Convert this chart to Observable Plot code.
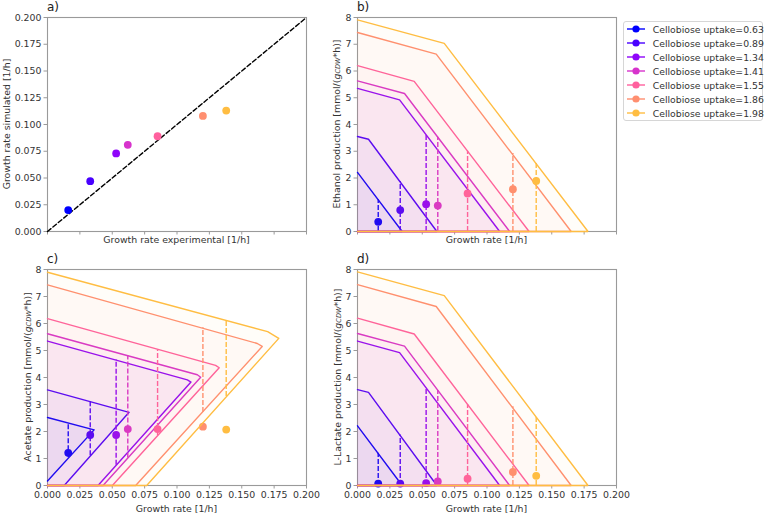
<!DOCTYPE html>
<html>
<head>
<meta charset="utf-8">
<script src="https://cdn.jsdelivr.net/npm/d3@7"></script>
<script src="https://cdn.jsdelivr.net/npm/@observablehq/plot@0.6"></script>
<style>
  body { margin: 0; background: #fff; }
  #chart { position: relative; width: 768px; height: 514px; background: #fff; font-family: "DejaVu Sans", sans-serif; overflow: hidden; }
  .panel { position: absolute; }
  #legend { position: absolute; left: 623px; top: 21px; width: 140px; height: 100px; box-sizing: border-box;
            border: 1px solid #d6d6d6; border-radius: 3px; background: #fff; padding-left: 3px; }
  .lrow { height: 14px; display: flex; align-items: center; font-size: 9.3px; color: #333; white-space: nowrap; }
  .lrow svg { flex: none; margin-right: 7.7px; }
</style>
</head>
<body>
<div id="chart"></div>
<script>
// ---------------- data ----------------
const uptakes    = [0.63, 0.89, 1.34, 1.41, 1.55, 1.86, 1.98];
const growthExp  = [0.016, 0.033, 0.053, 0.062, 0.085, 0.120, 0.138];
const growthSim  = [0.020, 0.047, 0.073, 0.081, 0.089, 0.108, 0.113];
const ethanolExp = [0.36, 0.80, 1.02, 0.97, 1.42, 1.58, 1.89];
const lactateExp = [0.07, 0.07, 0.09, 0.15, 0.25, 0.50, 0.36];
const acetateExp = [1.21, 1.87, 1.87, 2.09, 2.09, 2.18, 2.07];

// ethanol / L-lactate production envelopes (same shape)
const envY0     = [2.21, 3.55, 5.35, 5.63, 6.20, 7.44, 7.91];
const envKinkMu = [0.000, 0.0085, 0.0325, 0.0363, 0.0438, 0.0608, 0.0670];
const envKinkY  = [2.21, 3.45, 4.92, 5.16, 5.61, 6.63, 7.03];
const envMaxMu  = [0.0345, 0.0613, 0.1098, 0.1175, 0.1325, 0.1650, 0.1780];
const envAtExp  = [1.19, 1.87, 3.62, 3.52, 3.00, 2.92, 2.57];

// acetate production envelopes
const aceY0      = [2.52, 3.54, 5.35, 5.62, 6.18, 7.43, 7.90];
const aceUpEndMu = [0.0360, 0.0630, 0.1080, 0.1157, 0.1298, 0.1620, 0.1700];
const aceUpEndY  = [2.06, 2.71, 3.91, 4.10, 4.45, 5.26, 5.70];
const aceTipMu   = [0.0360, 0.0630, 0.1108, 0.1183, 0.1326, 0.1658, 0.1786];
const aceTipY    = [2.06, 2.71, 3.83, 4.01, 4.36, 5.15, 5.45];
const aceLowMu   = [0.000, 0.0129, 0.0390, 0.0429, 0.0501, 0.0681, 0.0766];
const aceLowY    = [0.17, 0, 0, 0, 0, 0, 0];
const aceDashLow = [1.03, 1.10, 0.75, 1.02, 1.85, 2.70, 3.30];
const aceDashHigh= [2.30, 3.12, 4.66, 4.80, 5.02, 5.84, 6.10];

// axes
const rateDomain = [0, 0.2];
const prodDomain = [0, 8];
const rateTicks  = [0, 0.025, 0.05, 0.075, 0.1, 0.125, 0.15, 0.175, 0.2];
const prodTicks  = [0, 1, 2, 3, 4, 5, 6, 7, 8];

// styles
const colors = ["#0000ff", "#4800ff", "#8f05fa", "#d733cc", "#ff619e", "#ff8f70", "#ffbd42"];
const labels = uptakes.map(u => `Cellobiose uptake=${u.toFixed(2)}`);
const FONT = "DejaVu Sans";
const FS = 9.4;
const SPINE = "#9a9a9a";
const TXT = "#333";

// ---------------- helpers ----------------
const chart = document.getElementById("chart");
const fmt3 = d3.format(".3f");

function envBD(i) {
  return [{x: 0, y: 0}, {x: envMaxMu[i], y: 0}, {x: envKinkMu[i], y: envKinkY[i]}, {x: 0, y: envY0[i]}];
}
function envC(i) {
  const pts = [];
  if (aceLowMu[i] > 0) pts.push({x: 0, y: 0});
  pts.push({x: aceLowMu[i], y: aceLowY[i]}, {x: aceTipMu[i], y: aceTipY[i]},
           {x: aceUpEndMu[i], y: aceUpEndY[i]}, {x: 0, y: aceY0[i]});
  return pts;
}

function addText(svg, x, y, parts, {rotate = 0, anchor = "middle", size = FS, baseline = "central", fill = TXT} = {}) {
  const t = d3.select(svg).append("text")
    .attr("transform", `translate(${x},${y}) rotate(${rotate})`)
    .attr("text-anchor", anchor)
    .attr("dominant-baseline", baseline)
    .attr("font-family", FONT)
    .attr("font-size", size)
    .attr("fill", fill);
  for (const p of parts) {
    const ts = t.append("tspan").text(p.t);
    if (p.it) ts.attr("font-style", "italic");
    if (p.sub) ts.attr("font-size", size * 0.7);
    if (p.dy) ts.attr("dy", p.dy);
  }
  return t;
}

function prodLabel(name) {
  return [{t: `${name} production [mmol/(`}, {t: "g", it: true},
          {t: "CDW", it: true, sub: true, dy: 2.2}, {t: "*h)]", dy: -2.2}];
}

function makePanel({left, top, width, height, mL, mT, mB, yDomain, yTicks, yFmt, xTickLabels, marks}) {
  const svg = Plot.plot({
    width, height,
    marginLeft: mL, marginRight: width - mL - 259, marginTop: mT, marginBottom: mB,
    x: {domain: rateDomain},
    y: {domain: yDomain},
    style: {fontFamily: FONT, fontSize: FS + "px", color: TXT, background: "transparent", overflow: "visible", maxWidth: "none"},
    marks: [
      Plot.frame({stroke: SPINE, strokeWidth: 1.1}),
      Plot.axisY({ticks: yTicks, tickFormat: yFmt, tickSize: 3.5, tickPadding: 2.5, stroke: SPINE, fill: TXT, label: null}),
      Plot.axisX({ticks: rateTicks, tickFormat: xTickLabels ? fmt3 : () => "", tickSize: 3.5, tickPadding: 2.5, stroke: SPINE, fill: TXT, label: null}),
      ...marks
    ]
  });
  svg.classList.add("panel");
  svg.style.left = left + "px";
  svg.style.top = top + "px";
  chart.appendChild(svg);
  return svg;
}

// ---------------- panel a ----------------
const diag = rateDomain.map(v => ({x: v, y: v}));
const idx = uptakes.map((_, i) => i);
const svgA = makePanel({
  left: 0, top: 0, width: 310, height: 250, mL: 47, mT: 17, mB: 19,
  yDomain: rateDomain, yTicks: rateTicks, yFmt: fmt3, xTickLabels: false,
  marks: [
    Plot.line(diag, {x: "x", y: "y", stroke: "#000", strokeWidth: 1.4, strokeDasharray: "4.5,2.5"}),
    Plot.dot(idx, {x: i => growthExp[i], y: i => growthSim[i], r: 3.9, fill: i => colors[i]})
  ]
});
addText(svgA, 5.5, 124, [{t: "Growth rate simulated [1/h]"}], {rotate: -90});
addText(svgA, 176.5, 239, [{t: "Growth rate experimental [1/h]"}]);
addText(svgA, 47, 11, [{t: "a)"}], {anchor: "start", size: 12, baseline: "auto", fill: "#222"});

// ---------------- series marks ----------------
function bdMarks(values) {
  const m = [];
  idx.forEach(i => {
    m.push(Plot.line(envBD(i), {x: "x", y: "y", fill: colors[i], fillOpacity: 0.03, stroke: "none"}));
    m.push(Plot.line(envBD(i), {x: "x", y: "y", stroke: colors[i], strokeWidth: 1.4, strokeLinejoin: "miter"}));
    m.push(Plot.ruleX([i], {x: d => growthExp[d], y1: 0, y2: d => envAtExp[d], stroke: colors[i], strokeWidth: 1.4, strokeDasharray: "5,2"}));
    m.push(Plot.dot([i], {x: d => growthExp[d], y: d => values[d], r: 3.9, fill: colors[i]}));
  });
  return m;
}
function cMarks() {
  const m = [];
  idx.forEach(i => {
    m.push(Plot.line(envC(i), {x: "x", y: "y", fill: colors[i], fillOpacity: 0.03, stroke: "none"}));
    m.push(Plot.line(envC(i), {x: "x", y: "y", stroke: colors[i], strokeWidth: 1.4}));
    m.push(Plot.ruleX([i], {x: d => growthExp[d], y1: d => aceDashLow[d], y2: d => aceDashHigh[d], stroke: colors[i], strokeWidth: 1.4, strokeDasharray: "5,2"}));
    m.push(Plot.dot([i], {x: d => growthExp[d], y: d => acetateExp[d], r: 3.9, fill: colors[i]}));
  });
  return m;
}

// ---------------- panel b ----------------
const svgB = makePanel({
  left: 300, top: 0, width: 320, height: 250, mL: 57, mT: 17, mB: 19,
  yDomain: prodDomain, yTicks: prodTicks, yFmt: d3.format("d"), xTickLabels: false,
  marks: bdMarks(ethanolExp)
});
addText(svgB, 36, 124, prodLabel("Ethanol"), {rotate: -90});
addText(svgB, 186.5, 239, [{t: "Growth rate [1/h]"}]);
addText(svgB, 57, 11, [{t: "b)"}], {anchor: "start", size: 12, baseline: "auto", fill: "#222"});

// ---------------- panel c ----------------
const svgC = makePanel({
  left: 0, top: 250, width: 310, height: 264, mL: 47, mT: 19, mB: 29,
  yDomain: prodDomain, yTicks: prodTicks, yFmt: d3.format("d"), xTickLabels: true,
  marks: cMarks()
});
addText(svgC, 27, 127, prodLabel("Acetate"), {rotate: -90});
addText(svgC, 176.5, 257.5, [{t: "Growth rate [1/h]"}]);
addText(svgC, 47, 13, [{t: "c)"}], {anchor: "start", size: 12, baseline: "auto", fill: "#222"});

// ---------------- panel d ----------------
const svgD = makePanel({
  left: 300, top: 250, width: 320, height: 264, mL: 57, mT: 19, mB: 29,
  yDomain: prodDomain, yTicks: prodTicks, yFmt: d3.format("d"), xTickLabels: true,
  marks: bdMarks(lactateExp)
});
addText(svgD, 36.7, 127, prodLabel("L-Lactate"), {rotate: -90});
addText(svgD, 186.5, 257.5, [{t: "Growth rate [1/h]"}]);
addText(svgD, 57, 13, [{t: "d)"}], {anchor: "start", size: 12, baseline: "auto", fill: "#222"});

// ---------------- legend ----------------
const legend = d3.select(chart).append("div").attr("id", "legend");
labels.forEach((lab, i) => {
  const row = legend.append("div").attr("class", "lrow");
  const s = row.append("svg").attr("width", 18).attr("height", 14);
  s.append("line").attr("x1", 0).attr("x2", 18).attr("y1", 7).attr("y2", 7).attr("stroke", colors[i]).attr("stroke-width", 1.4);
  s.append("circle").attr("cx", 9).attr("cy", 7).attr("r", 3.6).attr("fill", colors[i]);
  row.append("span").text(lab);
});
</script>
</body>
</html>
